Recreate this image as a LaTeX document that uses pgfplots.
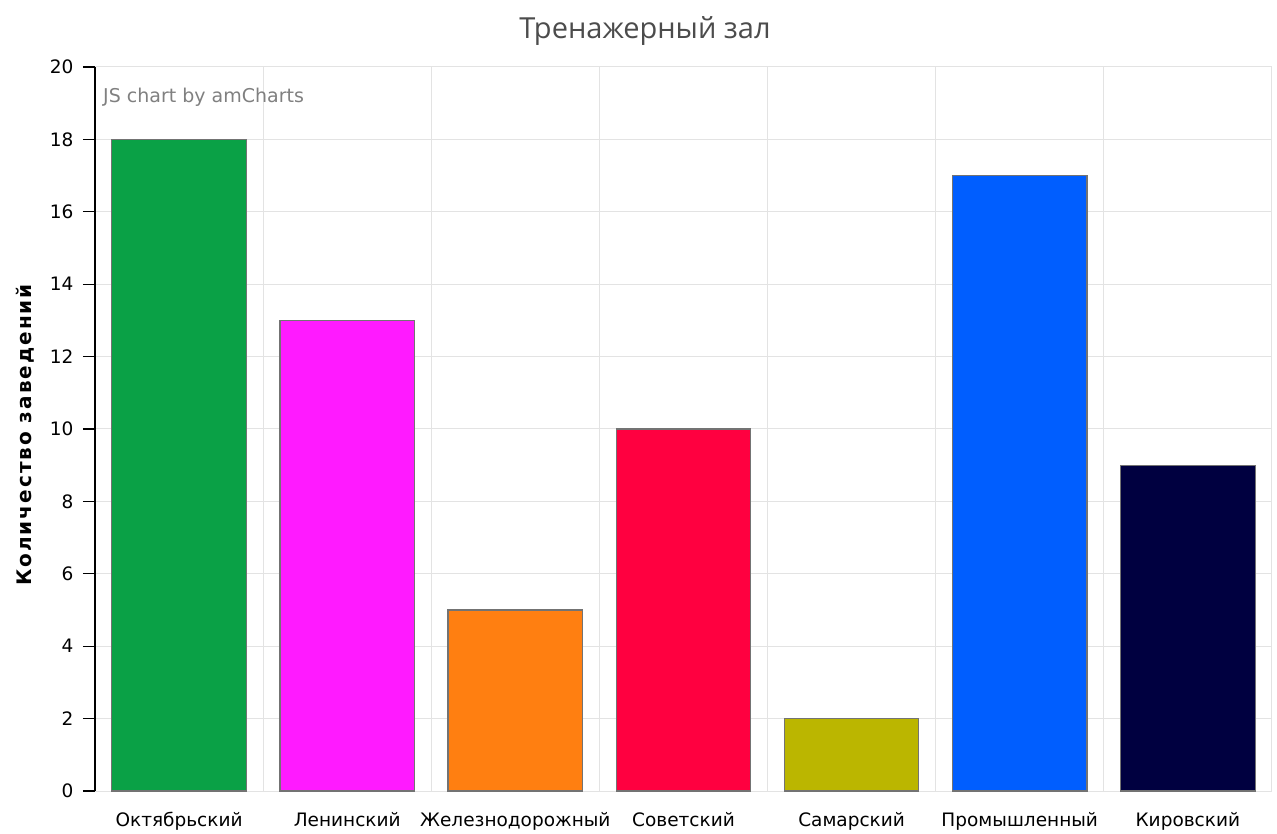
\documentclass[border=0pt]{standalone}
\usepackage{pgfplots}
\pgfplotsset{compat=1.18}
\usepackage{fontspec}
\setmainfont{DejaVu Sans}
\newfontfamily\titlefont{Open Sans}
\newfontfamily\ylabfont[LetterSpace=10]{DejaVu Sans}
\definecolor{c1}{HTML}{0AA146}
\definecolor{c2}{HTML}{FF1AFF}
\definecolor{c3}{HTML}{FF7F11}
\definecolor{c4}{HTML}{FF0040}
\definecolor{c5}{HTML}{BBB600}
\definecolor{c6}{HTML}{005EFF}
\definecolor{c7}{HTML}{000040}
\definecolor{gridc}{HTML}{E3E3E3}
\begin{document}
\begin{tikzpicture}
\useasboundingbox (-95bp,-43bp) rectangle (1182bp,791bp);
\begin{axis}[
  at={(0,0)}, anchor=south west,
  scale only axis, width=1177bp, height=724bp,
  xmin=-0.5, xmax=6.5, ymin=0, ymax=20,
  ytick={0,2,...,20},
  xtick={0,...,6},
  xticklabels={Октябрьский,Ленинский,Железнодорожный,Советский,Самарский,Промышленный,Кировский},
  minor xtick={-0.5,0.5,...,6.5},
  xminorgrids, ymajorgrids,
  minor grid style={draw=gridc, line width=1bp},
  major grid style={draw=gridc, line width=1bp},
  axis x line*=bottom, axis y line*=left,
  x axis line style={draw=gridc, line width=1bp, -},
  y axis line style={draw=black, line width=1.2bp, -},
  tick align=outside,
  major tick length=12bp,
  xtick style={draw=none},
  minor x tick style={draw=none},
  ytick style={draw=black, line width=1.2bp},
  tick label style={font=\fontsize{18.5bp}{22bp}\selectfont},
  yticklabel style={xshift=-6bp},
  xticklabel style={yshift=-6bp},
  /pgf/number format/assume math mode=true,
  ybar, bar width=0.8, bar shift=0,
  every axis plot/.append style={draw=black!55, line width=1.2bp},
]
\addplot[fill=c1] coordinates {(0,18)};
\addplot[fill=c2] coordinates {(1,13)};
\addplot[fill=c3] coordinates {(2,5)};
\addplot[fill=c4] coordinates {(3,10)};
\addplot[fill=c5] coordinates {(4,2)};
\addplot[fill=c6] coordinates {(5,17)};
\addplot[fill=c7] coordinates {(6,9)};
\node[anchor=west, text=black!50, font=\fontsize{19bp}{22bp}\selectfont] at (rel axis cs:0.004,0.958) {JS chart by amCharts};
\end{axis}
\node[text=black!70, font=\titlefont\fontsize{29bp}{34bp}\selectfont] at (550bp,760bp) {Тренажерный зал};
\node[rotate=90, font=\ylabfont\bfseries\fontsize{20bp}{24bp}\selectfont] at (-70bp,356bp) {Количество заведений};
\end{tikzpicture}
\end{document}
